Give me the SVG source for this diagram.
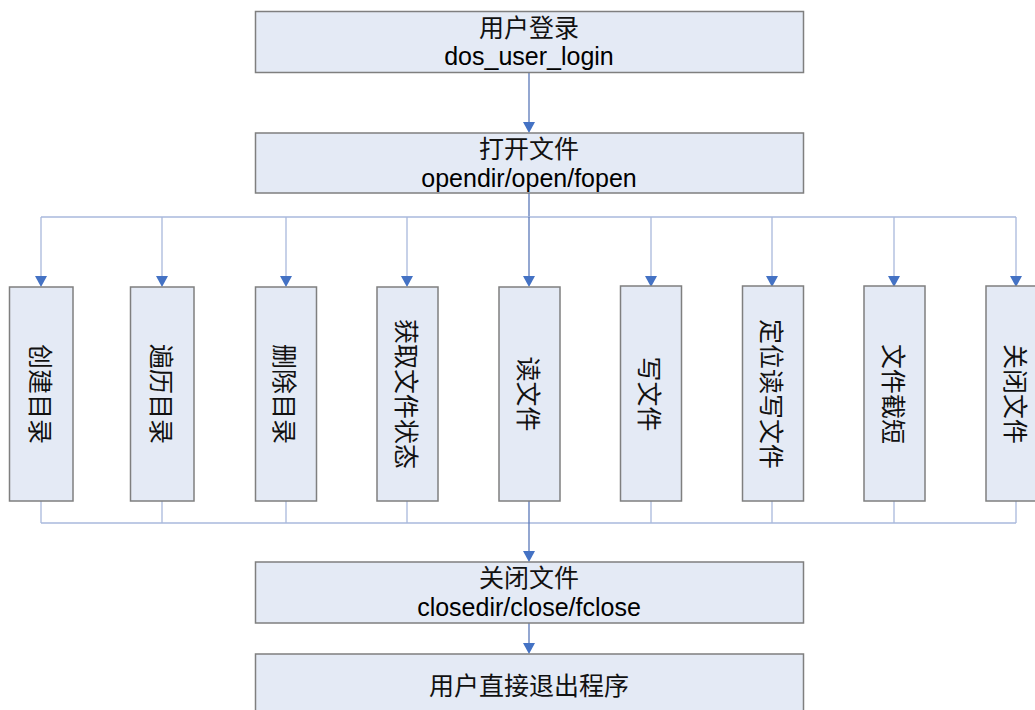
<svg xmlns="http://www.w3.org/2000/svg" width="1035" height="710" viewBox="0 0 1035 710">
<style>
.box{fill:#E4EAF5;stroke:#7F7F7F;stroke-width:1.5}
.cn{font-family:"Noto Sans CJK SC","Noto Sans",sans-serif;font-size:25px;fill:#111;text-anchor:middle}
.en{font-family:"Liberation Sans",Arial,sans-serif;font-size:25px;fill:#000;text-anchor:middle}
.vt{font-family:"Noto Sans CJK SC","Noto Sans",sans-serif;font-size:25px;fill:#111;text-anchor:middle;dominant-baseline:central}
.ln{fill:none;stroke:#A9B8DC;stroke-width:1.3}
.lc{fill:none;stroke:#5A78B8;stroke-width:1.3}
</style>
<defs>
<marker id="ah" markerUnits="userSpaceOnUse" markerWidth="12" markerHeight="11" refX="6" refY="10" orient="auto-start-reverse" viewBox="0 0 12 11">
<path d="M0,0 L12,0 L6,11 Z" fill="#4472C4" transform="rotate(0)"/>
</marker>
</defs>
<g id="connectors">
<line class="lc" x1="529" y1="72" x2="529" y2="122"/>
<path d="M523,122 L535,122 L529,133 Z" fill="#4472C4"/>
<line class="lc" x1="529" y1="193" x2="529" y2="217"/>
<line class="ln" x1="41" y1="217" x2="1016" y2="217"/>
<g>
<line class="ln" x1="41" y1="217" x2="41" y2="276"/>
<line class="ln" x1="162" y1="217" x2="162" y2="276"/>
<line class="ln" x1="286" y1="217" x2="286" y2="276"/>
<line class="ln" x1="407" y1="217" x2="407" y2="276"/>
<line class="lc" x1="529" y1="217" x2="529" y2="276"/>
<line class="ln" x1="651" y1="217" x2="651" y2="276"/>
<line class="ln" x1="772" y1="217" x2="772" y2="276"/>
<line class="ln" x1="894" y1="217" x2="894" y2="276"/>
<line class="ln" x1="1016" y1="217" x2="1016" y2="276"/>
</g>
<g fill="#4472C4">
<path d="M35,276 L47,276 L41,287 Z"/>
<path d="M156,276 L168,276 L162,287 Z"/>
<path d="M280,276 L292,276 L286,287 Z"/>
<path d="M401,276 L413,276 L407,287 Z"/>
<path d="M523,276 L535,276 L529,287 Z"/>
<path d="M645,276 L657,276 L651,287 Z"/>
<path d="M766,276 L778,276 L772,287 Z"/>
<path d="M888,276 L900,276 L894,287 Z"/>
<path d="M1010,276 L1022,276 L1016,287 Z"/>
</g>
<g>
<line class="ln" x1="41" y1="501" x2="41" y2="523"/>
<line class="ln" x1="162" y1="501" x2="162" y2="523"/>
<line class="ln" x1="286" y1="501" x2="286" y2="523"/>
<line class="ln" x1="407" y1="501" x2="407" y2="523"/>
<line class="ln" x1="651" y1="501" x2="651" y2="523"/>
<line class="ln" x1="772" y1="501" x2="772" y2="523"/>
<line class="ln" x1="894" y1="501" x2="894" y2="523"/>
<line class="ln" x1="1016" y1="501" x2="1016" y2="523"/>
</g>
<line class="ln" x1="41" y1="523" x2="1016" y2="523"/>
<line class="lc" x1="529" y1="501" x2="529" y2="551"/>
<path d="M523,551 L535,551 L529,562 Z" fill="#4472C4"/>
<line class="lc" x1="529" y1="623" x2="529" y2="643"/>
<path d="M523,643 L535,643 L529,654 Z" fill="#4472C4"/>
</g>
<g id="login">
<rect class="box" x="255.5" y="11.5" width="548" height="61"/>
<text class="cn" x="529" y="36.5">用户登录</text>
<text class="en" x="529" y="65">dos_user_login</text>
</g>
<g id="open">
<rect class="box" x="255.5" y="133" width="548" height="60"/>
<text class="cn" x="529" y="158">打开文件</text>
<text class="en" x="529" y="187">opendir/open/fopen</text>
</g>
<g id="mkdir">
<rect class="box" x="9.5" y="287" width="63.5" height="214"/>
<text class="vt" transform="translate(41.5,394) rotate(90)">创建目录</text>
</g>
<g id="readdir">
<rect class="box" x="130.5" y="287" width="63.5" height="214"/>
<text class="vt" transform="translate(162.5,394) rotate(90)">遍历目录</text>
</g>
<g id="rmdir">
<rect class="box" x="255.5" y="287" width="61" height="214"/>
<text class="vt" transform="translate(286,394) rotate(90)">删除目录</text>
</g>
<g id="stat">
<rect class="box" x="377" y="287" width="61" height="214"/>
<text class="vt" transform="translate(407.5,394) rotate(90)">获取文件状态</text>
</g>
<g id="read">
<rect class="box" x="499" y="287" width="61" height="214"/>
<text class="vt" transform="translate(529.5,394) rotate(90)">读文件</text>
</g>
<g id="write">
<rect class="box" x="620.5" y="286" width="61" height="215"/>
<text class="vt" transform="translate(651,394) rotate(90)">写文件</text>
</g>
<g id="seek">
<rect class="box" x="742.5" y="286" width="61" height="215"/>
<text class="vt" transform="translate(773,394) rotate(90)">定位读写文件</text>
</g>
<g id="truncate">
<rect class="box" x="864" y="286" width="61" height="215"/>
<text class="vt" transform="translate(894.5,394) rotate(90)">文件截短</text>
</g>
<g id="closefile">
<rect class="box" x="986" y="286" width="61" height="215"/>
<text class="vt" transform="translate(1016.5,394) rotate(90)">关闭文件</text>
</g>
<g id="close">
<rect class="box" x="255.5" y="562" width="548" height="61"/>
<text class="cn" x="529" y="587">关闭文件</text>
<text class="en" x="529" y="616">closedir/close/fclose</text>
</g>
<g id="exit">
<rect class="box" x="255.5" y="654" width="548" height="70"/>
<text class="cn" x="529" y="695">用户直接退出程序</text>
</g>
</svg>
